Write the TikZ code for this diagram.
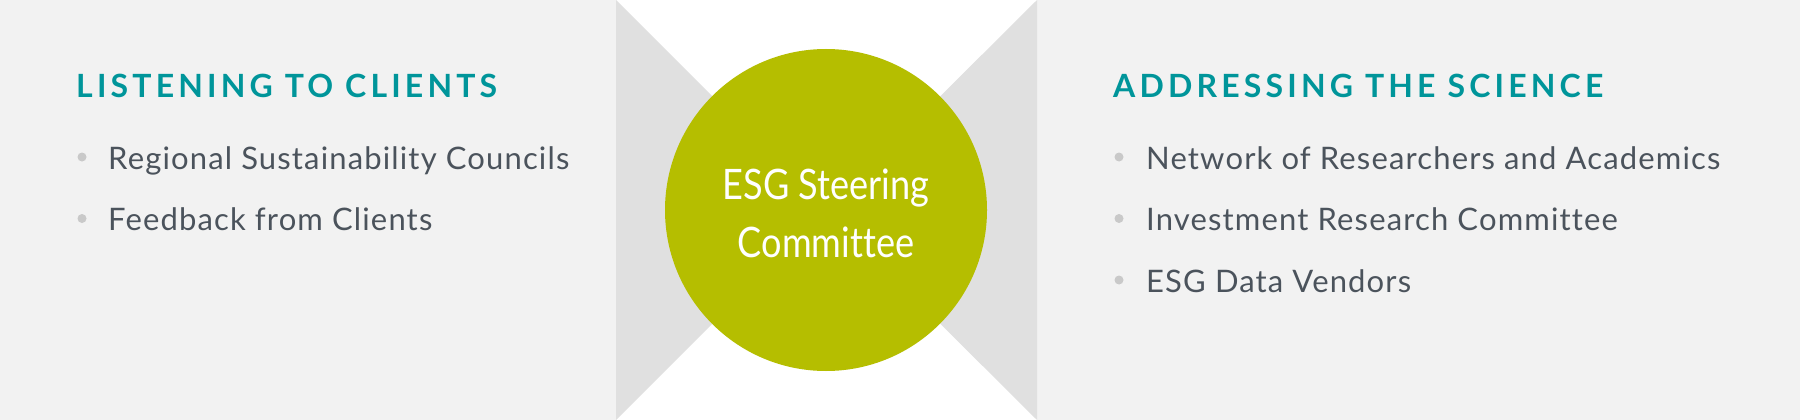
\documentclass[tikz,border=0pt]{standalone}
\usepackage{fontspec}
\setmainfont[LetterSpace=3.7, Ligatures=CommonOff]{Lato}
\newfontfamily\headfont[LetterSpace=13]{Lato}
\newfontfamily\hubfont[FakeStretch=0.86, Ligatures=CommonOff]{Lato}
\definecolor{panelgray}{HTML}{F2F2F2}
\definecolor{wedgegray}{HTML}{E0E0E0}
\definecolor{hubgreen}{HTML}{B5BE00}
\definecolor{headteal}{HTML}{00959A}
\definecolor{itemgray}{HTML}{4B535C}
\definecolor{dotgray}{HTML}{C9C9C9}
\tikzset{
	heading/.style={anchor=base west, inner sep=0pt, text=headteal,
			font=\headfont\bfseries\fontsize{32}{36}\selectfont},
	item/.style={anchor=base west, inner sep=0pt, text=itemgray,
			font=\fontsize{31}{36}\selectfont},
	dot/.style={circle, fill=dotgray, inner sep=0pt, minimum size=9pt},
	hub/.style={circle, fill=hubgreen, inner sep=0pt, minimum size=322pt},
	hublabel/.style={text=white, align=center, font=\hubfont\fontsize{42}{58}\selectfont}
}

\begin{document}
\begin{tikzpicture}[x=1pt, y=-1pt]
			\fill[panelgray] (0,0) rectangle (1800,420);
			\fill[white] (616,0) rectangle (1037,420);
			\fill[wedgegray] (616,0) -- (826,210) -- (616,420) -- cycle;
			\fill[wedgegray] (1037,0) -- (826,210) -- (1037,420) -- cycle;

			\node[hub] (hub) at (826,210) {};
			\node[hublabel] (hubtext) at (826,213) {ESG Steering\\Committee};

			\node[heading] (clients) at (76,98) {LISTENING TO CLIENTS};
			\foreach \txt [count=\i] in {Regional Sustainability Councils, Feedback from Clients} {
				\node[dot] (cdot\i) at (82, {157+61.5*(\i-1)}) {};
				\node[item] (client\i) at (108, {169+61.5*(\i-1)}) {\txt};
			}

			\node[heading] (science) at (1113,98) {ADDRESSING THE SCIENCE};
			\foreach \txt [count=\i] in {Network of Researchers and Academics, Investment Research Committee, ESG Data Vendors} {
				\node[dot] (sdot\i) at (1119, {157+61.5*(\i-1)}) {};
				\node[item] (sci\i) at (1146, {169+61.5*(\i-1)}) {\txt};
			}
		\end{tikzpicture}
\end{document}
